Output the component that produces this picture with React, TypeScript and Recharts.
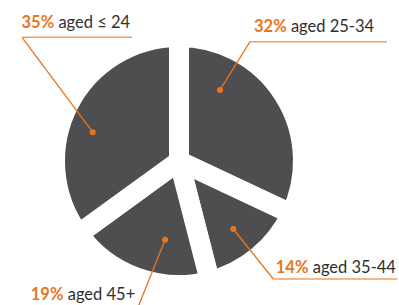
import { PieChart, Pie, Cell } from "recharts";

const ageGroups = ["aged 25-34", "aged 35-44", "aged 45+", "aged ≤ 24"];
const shares = [32, 14, 19, 35];

const chartData = ageGroups.map((name, i) => ({ name, value: shares[i] }));

const ORANGE = "#e8761f";
const UNDERLINE = "#f0a060";
const SLICE = "#4e4e50";
const TEXT = "#2f2f2f";
const RAD = Math.PI / 180;

// callout placement relative to the pie centre (turn = tweak on midAngle)
const callouts = [
  { turn: 27.6, r: 82, ex: 71, ey: -119.3, dir: 1, len: 137, inset: 4, rise: 9.7 },
  { turn: -1, r: 87, ex: 94.3, ey: 118, dir: 1, len: 124, inset: 2.5, rise: 6 },
  { turn: 9.8, r: 80, ex: -40.7, ey: 145.5, dir: -1, len: 109, inset: 1.5, rise: 6.5 },
  { turn: 8.5, r: 91, ex: -157, ey: -123.7, dir: 1, len: 110, inset: -0.5, rise: 9.5 },
];

const renderCallout = (props: any) => {
  const { cx, cy, midAngle, index, name, value } = props;
  const c = callouts[index];
  const a = (midAngle + c.turn) * RAD;
  const px = cx + c.r * Math.cos(a);
  const py = cy - c.r * Math.sin(a);
  const ex = cx + c.ex;
  const ey = cy + c.ey;
  const lx = ex + c.dir * c.len;
  const left = Math.min(ex, lx);

  return (
    <g>
      <line x1={px} y1={py} x2={ex} y2={ey} stroke={ORANGE} strokeWidth={1.3} />
      <line x1={ex} y1={ey} x2={lx} y2={ey} stroke={UNDERLINE} strokeWidth={1.5} />
      <circle cx={px} cy={py} r={3} fill={ORANGE} />
      <text
        x={left + c.inset}
        y={ey - c.rise}
        fontFamily="Lato, sans-serif"
        fontSize={16.5}
        fill={TEXT}>
        <tspan fontWeight={700} fill={ORANGE}>
          {value}%
        </tspan>
        {` ${name}`}
      </text>
    </g>
  );
};

const App = () => {
  return (
    <div style={{ position: "absolute", left: 0, top: 0, background: "#fff" }}>
      <PieChart width={399} height={305}>
        <Pie
          data={chartData}
          dataKey="value"
          cx={174}
          cy={156}
          outerRadius={124}
          startAngle={90}
          endAngle={-270}
          paddingAngle={0}
          stroke="#fff"
          strokeWidth={20}
          labelLine={false}
          label={renderCallout}
          isAnimationActive={false}>
          {chartData.map((entry, index) => (
            <Cell key={`cell-${index}`} fill={SLICE} />
          ))}
        </Pie>
      </PieChart>
    </div>
  );
};

export default App;
